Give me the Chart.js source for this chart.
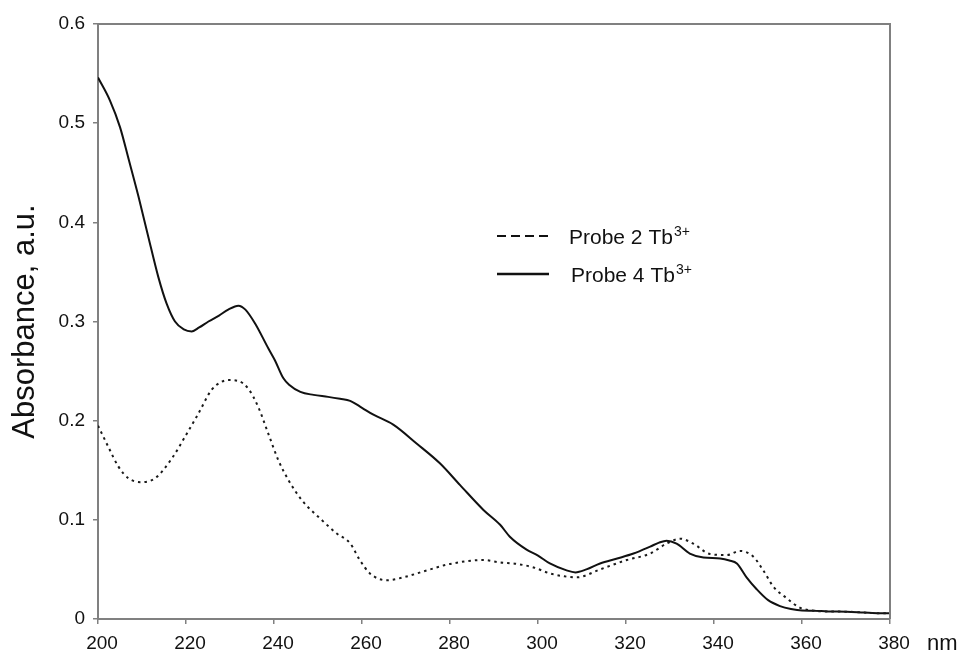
<!DOCTYPE html>
<html>
<head>
<meta charset="utf-8">
<script src="https://cdn.jsdelivr.net/npm/chart.js@4.4.1/dist/chart.umd.min.js"></script>
<style>
  html, body { margin: 0; padding: 0; background: #fff; }
  #wrap { width: 966px; height: 656px; position: relative; }
</style>
</head>
<body>
<div id="wrap"><canvas id="c" width="966" height="656"></canvas></div>
<script>
// ---- data ----
const xTicks = [200, 220, 240, 260, 280, 300, 320, 340, 360, 380];
const yTicks = [0, 0.1, 0.2, 0.3, 0.4, 0.5, 0.6];

const probe4Label = "Probe 4 Tb";
const probe4Wl = [200, 202.7, 205, 207, 209.2, 211.4, 213.7, 215.6, 217.5, 219.5, 221.3, 223, 225.1, 227.5, 229.6, 231.9, 233.5, 235.7, 238.7, 240.2, 242.1, 243.5, 246, 249, 252.3, 255, 257.3, 260, 262.6, 267.1, 272.4, 277.7, 282.3, 287.6, 291.4, 293.6, 297.4, 300, 302.7, 306.5, 308.5, 311, 314.1, 318, 321.7, 325.5, 327.5, 329.2, 331.5, 334.5, 337.6, 341.4, 343.5, 345.2, 347.4, 349.7, 352.3, 355, 357.5, 360, 362.6, 366, 370.2, 374, 377.7, 380];
const probe4Abs = [0.546, 0.523, 0.496, 0.463, 0.426, 0.386, 0.345, 0.318, 0.300, 0.292, 0.290, 0.294, 0.300, 0.306, 0.312, 0.316, 0.312, 0.298, 0.273, 0.261, 0.243, 0.236, 0.229, 0.226, 0.224, 0.222, 0.220, 0.213, 0.206, 0.196, 0.177, 0.157, 0.135, 0.110, 0.095, 0.083, 0.070, 0.064, 0.056, 0.049, 0.047, 0.050, 0.056, 0.061, 0.066, 0.073, 0.077, 0.079, 0.076, 0.066, 0.062, 0.061, 0.059, 0.056, 0.042, 0.030, 0.019, 0.013, 0.010, 0.0085, 0.0084, 0.0075, 0.0074, 0.0065, 0.0057, 0.0057];

const probe2Label = "Probe 2 Tb";
const probe2Wl = [200, 202.3, 204.6, 206.9, 209.9, 213, 216.8, 219.8, 222.8, 225.8, 228, 229.6, 231.9, 234.2, 236.4, 238.7, 241, 243.3, 246.3, 250.8, 254.2, 257.3, 259.5, 261.8, 265.6, 269.4, 274.7, 280, 287.6, 291.4, 295.2, 299, 302.7, 306, 308.8, 314.1, 320.2, 325.5, 329.2, 332.3, 335.3, 339.1, 342.9, 345.9, 348.9, 351.2, 353.5, 356.5, 359.5, 362.6, 366, 370.2, 374, 377.7, 380];
const probe2Abs = [0.195, 0.174, 0.154, 0.142, 0.138, 0.142, 0.162, 0.184, 0.207, 0.231, 0.239, 0.241, 0.240, 0.232, 0.214, 0.187, 0.160, 0.140, 0.120, 0.100, 0.0864, 0.0763, 0.0595, 0.046, 0.039, 0.042, 0.049, 0.0555, 0.0595, 0.057, 0.0555, 0.052, 0.046, 0.043, 0.042, 0.050, 0.0595, 0.066, 0.076, 0.081, 0.076, 0.0655, 0.0645, 0.0686, 0.063, 0.049, 0.0326, 0.021, 0.0115, 0.0084, 0.0075, 0.0074, 0.0065, 0.0057, 0.0057];

const superscript = "3+";
const yTitle = "Absorbance, a.u.";
const xUnit = "nm";

// ---- build ----
const toPts = (xs, ys) => xs.map((x, i) => ({ x: x, y: ys[i] }));
const FONT = "'Liberation Sans', Arial, sans-serif";
const AXIS_GREY = '#808080';

const framePlugin = {
  id: 'frame',
  afterDraw(chart) {
    const { ctx, chartArea: a } = chart;
    ctx.save();
    ctx.strokeStyle = AXIS_GREY;
    ctx.lineWidth = 2;
    ctx.beginPath();
    ctx.moveTo(a.left, a.top);
    ctx.lineTo(a.right, a.top);
    ctx.lineTo(a.right, a.bottom);
    ctx.stroke();
    ctx.restore();
  }
};

const extrasPlugin = {
  id: 'extras',
  afterDraw(chart) {
    const { ctx } = chart;
    const xs = chart.scales.x, ys = chart.scales.y;
    ctx.save();
    // unit label
    ctx.fillStyle = '#111';
    ctx.font = '22px ' + FONT;
    ctx.textBaseline = 'middle';
    ctx.textAlign = 'left';
    ctx.fillText(xUnit, xs.right + 37, 644);

    // legend
    const items = [
      { label: probe2Label, dash: [9, 5], y: 236, tx: 569, lx: 497 },
      { label: probe4Label, dash: [], y: 274, tx: 571, lx: 497 }
    ];
    items.forEach(it => {
      ctx.strokeStyle = '#111';
      ctx.lineWidth = it.dash.length ? 2 : 2.5;
      ctx.setLineDash(it.dash);
      ctx.beginPath();
      ctx.moveTo(it.lx, it.y);
      ctx.lineTo(it.lx + 52, it.y);
      ctx.stroke();
      ctx.setLineDash([]);
      ctx.font = '21px ' + FONT;
      ctx.textBaseline = 'middle';
      ctx.fillStyle = '#111';
      ctx.fillText(it.label, it.tx, it.y + 2);
      const w = ctx.measureText(it.label).width;
      ctx.font = '14px ' + FONT;
      ctx.fillText(superscript, it.tx + w + 1, it.y - 4);
    });
    ctx.restore();
  }
};

new Chart(document.getElementById('c'), {
  type: 'line',
  data: {
    datasets: [
      {
        label: probe2Label + superscript,
        data: toPts(probe2Wl, probe2Abs),
        borderColor: '#1a1a1a',
        borderWidth: 2,
        borderDash: [2.5, 4],
        pointRadius: 0,
        fill: false,
        cubicInterpolationMode: 'monotone'
      },
      {
        label: probe4Label + superscript,
        data: toPts(probe4Wl, probe4Abs),
        borderColor: '#111',
        borderWidth: 2,
        pointRadius: 0,
        fill: false,
        cubicInterpolationMode: 'monotone'
      }
    ]
  },
  options: {
    responsive: false,
    animation: false,
    layout: { padding: { left: 0, top: 24, right: 76, bottom: 0 } },
    plugins: { legend: { display: false }, tooltip: { enabled: false } },
    scales: {
      x: {
        type: 'linear',
        min: xTicks[0],
        max: xTicks[xTicks.length - 1],
        afterBuildTicks: s => { s.ticks = xTicks.map(v => ({ value: v })); },
        afterFit: s => { s.height = 37; },
        grid: { drawOnChartArea: false, drawTicks: true, tickLength: 5, color: AXIS_GREY, lineWidth: 1.5 },
        border: { display: true, color: AXIS_GREY, width: 2 },
        ticks: { color: '#111', font: { family: FONT, size: 19 }, padding: 8, labelOffset: 4, maxRotation: 0,
                 callback: v => String(v) }
      },
      y: {
        type: 'linear',
        min: yTicks[0],
        max: yTicks[yTicks.length - 1],
        afterBuildTicks: s => { s.ticks = yTicks.map(v => ({ value: v })); },
        afterFit: s => { s.width = 98; },
        grid: { drawOnChartArea: false, drawTicks: true, tickLength: 5, color: AXIS_GREY, lineWidth: 1.5 },
        border: { display: true, color: AXIS_GREY, width: 2 },
        ticks: { color: '#111', font: { family: FONT, size: 19 }, padding: 8,
                 callback: v => v === 0 ? '0' : Number(v).toFixed(1) },
        title: { display: true, text: yTitle, color: '#111', font: { family: FONT, size: 31 }, padding: { top: 7, bottom: 0 } }
      }
    }
  },
  plugins: [framePlugin, extrasPlugin]
});
</script>
</body>
</html>
